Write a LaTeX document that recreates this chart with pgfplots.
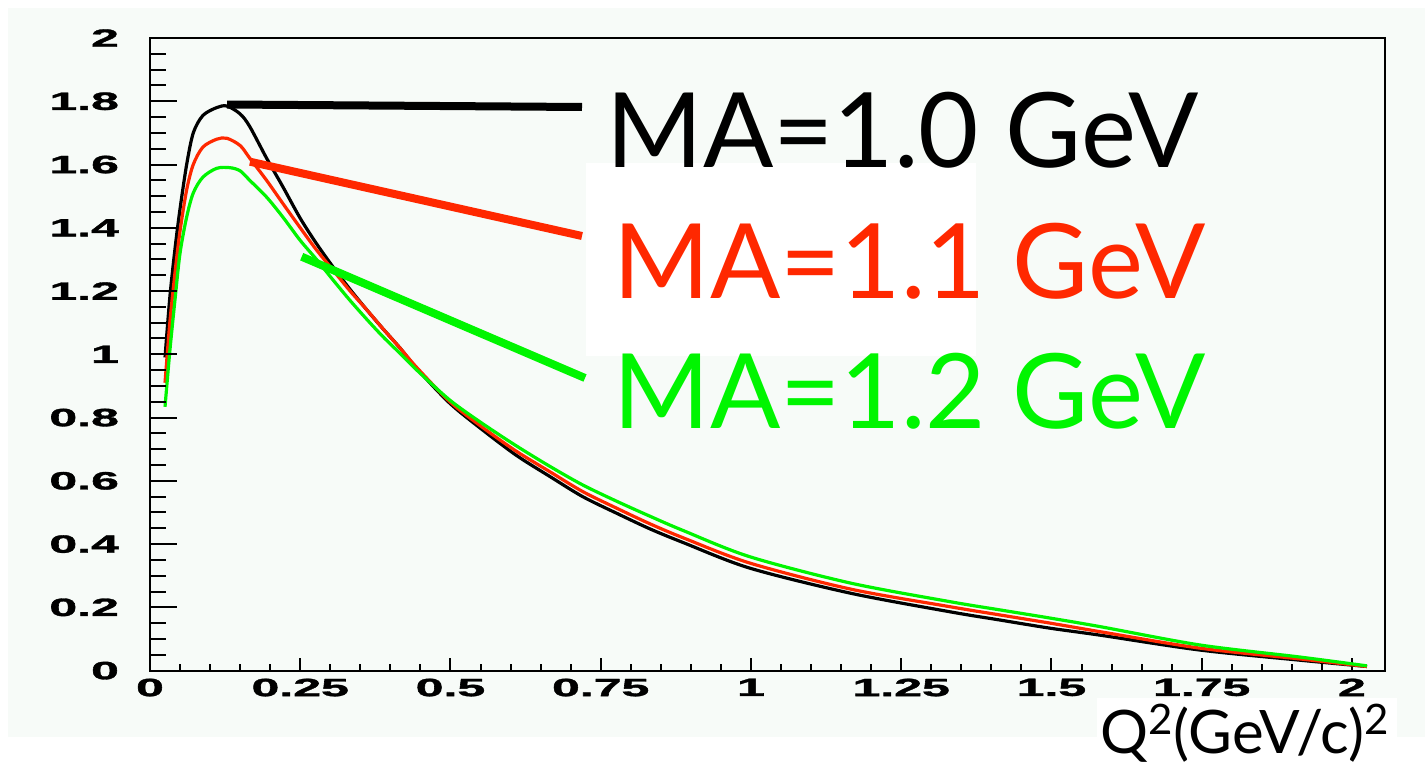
\documentclass[border=0pt]{standalone}
\usepackage{pgfplots}
\pgfplotsset{compat=1.18}
\usepackage{pgfplotstable}
\usepackage{fontspec}
\usepackage{graphicx}
\setmainfont{Lato}
\newfontfamily\tickfont[FakeBold=1.2]{Liberation Sans Bold}
\definecolor{bgc}{RGB}{247,251,248}
\definecolor{rootred}{RGB}{255,40,0}
\definecolor{rootgreen}{RGB}{0,245,0}
\newcommand\tl[1]{\scalebox{2.0}[1]{\fontsize{12.5pt}{14pt}\tickfont #1}}

\pgfplotstableread{
x y
0.025 0.99
0.033 1.18
0.042 1.34
0.050 1.46
0.061 1.60
0.072 1.70
0.088 1.755
0.111 1.78
0.128 1.785
0.150 1.76
0.166 1.72
0.194 1.62
0.221 1.53
0.250 1.43
0.277 1.35
0.305 1.275
0.333 1.205
0.361 1.14
0.388 1.08
0.416 1.02
0.444 0.955
0.499 0.845
0.554 0.76
0.610 0.68
0.666 0.613
0.720 0.55
0.777 0.497
0.832 0.448
0.887 0.405
0.998 0.324
1.165 0.245
1.331 0.186
1.414 0.16
1.498 0.134
1.581 0.112
1.747 0.065
1.913 0.033
2.025 0.013
}\tblack

\pgfplotstableread{
x y
0.025 0.91
0.033 1.10
0.042 1.265
0.050 1.39
0.061 1.52
0.072 1.60
0.088 1.655
0.111 1.68
0.128 1.683
0.150 1.66
0.166 1.62
0.194 1.55
0.221 1.477
0.250 1.40
0.277 1.33
0.305 1.265
0.333 1.20
0.361 1.14
0.388 1.08
0.416 1.02
0.444 0.958
0.499 0.85
0.554 0.768
0.610 0.693
0.666 0.628
0.720 0.566
0.777 0.513
0.832 0.464
0.887 0.42
0.998 0.34
1.165 0.258
1.331 0.202
1.414 0.176
1.498 0.150
1.581 0.123
1.747 0.071
1.913 0.037
2.025 0.013
}\tred

\pgfplotstableread{
x y
0.025 0.834
0.033 1.01
0.042 1.18
0.050 1.32
0.061 1.434
0.072 1.51
0.088 1.56
0.111 1.588
0.133 1.59
0.150 1.58
0.166 1.55
0.194 1.497
0.221 1.434
0.250 1.36
0.277 1.30
0.305 1.234
0.333 1.17
0.361 1.11
0.388 1.055
0.416 1.003
0.444 0.95
0.499 0.855
0.554 0.78
0.610 0.71
0.666 0.645
0.720 0.587
0.777 0.535
0.832 0.488
0.887 0.443
0.998 0.36
1.165 0.277
1.331 0.218
1.414 0.192
1.498 0.166
1.581 0.139
1.747 0.081
1.913 0.043
2.025 0.015
}\tgreen

\begin{document}
\begin{tikzpicture}
\path[use as bounding box] (0,0) rectangle (712.5pt,384pt);
\fill[bgc] (4pt,15.5pt) rectangle (712.5pt,380pt);
% main axis: frame, x ticks, curves
\begin{axis}[
  at={(75pt,48.7pt)}, anchor=south west,
  scale only axis, width=617.5pt, height=316.3pt,
  xmin=0, xmax=2.055, ymin=0, ymax=2,
  axis line style={line width=1pt, black},
  tick align=inside, xtick pos=bottom, ytick pos=left,
  xtick={0,0.25,0.5,0.75,1,1.25,1.5,1.75,2},
  xticklabels={\tl{0},\tl{0.25},\tl{0.5},\tl{0.75},\tl{1},\tl{1.25},\tl{1.5},\tl{1.75},\tl{2}},
  minor x tick num=4,
  ytick=\empty,
  major tick length=6.5pt, minor tick length=3.2pt,
  every tick/.style={line width=1pt, black},
  xticklabel style={yshift=-0.5pt},
  clip=true,
]
\addplot[black, line width=1.6pt, smooth] table[x=x,y=y]{\tblack};
\addplot[rootred, line width=1.6pt, smooth] table[x=x,y=y]{\tred};
\addplot[rootgreen, line width=1.6pt, smooth] table[x=x,y=y]{\tgreen};
\end{axis}
% y ticks axis
\begin{axis}[
  at={(75pt,48.7pt)}, anchor=south west,
  scale only axis, width=617.5pt, height=316.3pt,
  xmin=0, xmax=2.055, ymin=0, ymax=2,
  axis line style={draw=none},
  tick align=inside, ytick pos=left,
  xtick=\empty,
  ytick={0,0.2,0.4,0.6,0.8,1,1.2,1.4,1.6,1.8,2},
  yticklabels={\tl{0},\tl{0.2},\tl{0.4},\tl{0.6},\tl{0.8},\tl{1},\tl{1.2},\tl{1.4},\tl{1.6},\tl{1.8},\tl{2}},
  minor y tick num=3,
  major tick length=13.5pt, minor tick length=8pt,
  every tick/.style={line width=1pt, black},
  yticklabel style={xshift=-12pt},
]
\end{axis}
% annotation boxes and lines
\fill[white] (293pt,302.5pt) rectangle (488pt,206pt);
\fill[white] (548.5pt,0pt) rectangle (698.5pt,35pt);
\draw[black, line width=4pt] (113.5pt,331.75pt) -- (291pt,330.5pt);
\draw[rootred, line width=4pt] (125pt,303.15pt) -- (291pt,266pt);
\draw[rootgreen, line width=4pt] (150.85pt,255.65pt) -- (292.5pt,195pt);
\node[anchor=base west, inner sep=0pt, font=\fontsize{52pt}{60pt}\selectfont, text=black] at (303pt,300.5pt) {MA=1.0 GeV};
\node[anchor=base west, inner sep=0pt, font=\fontsize{52pt}{60pt}\selectfont, text=rootred] at (306.5pt,235pt) {MA=1.1 GeV};
\node[anchor=base west, inner sep=0pt, font=\fontsize{52pt}{60pt}\selectfont, text=rootgreen] at (306.5pt,170pt) {MA=1.2 GeV};
\node[anchor=base west, inner sep=0pt, font=\fontsize{30pt}{34pt}\selectfont] at (550pt,7.5pt) {Q\textsuperscript{2}(GeV/c)\textsuperscript{2}};
\end{tikzpicture}
\end{document}
